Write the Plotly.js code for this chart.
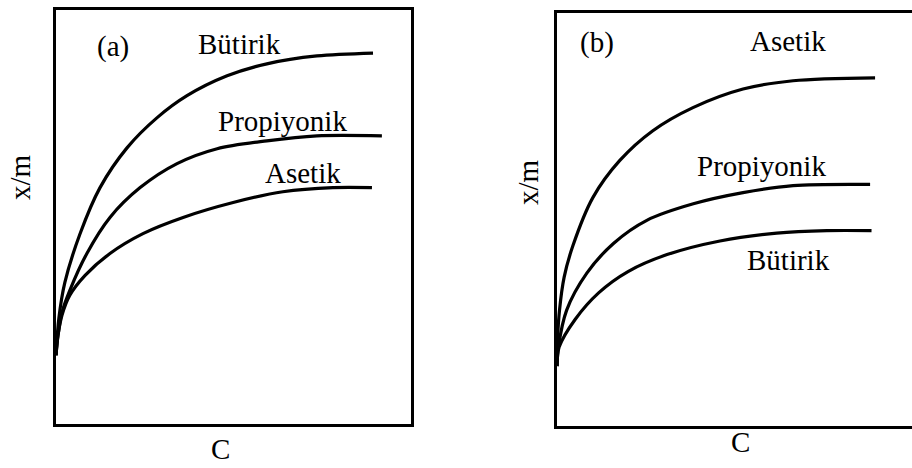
<!DOCTYPE html>
<html>
<head>
<meta charset="utf-8">
<script src="https://cdn.plot.ly/plotly-3.0.1.min.js"></script>
<style>
  html, body { margin: 0; padding: 0; background: #fff; }
  #chart { width: 912px; height: 468px; }
</style>
</head>
<body>
<div id="chart"></div>
<script>
// Adsorption isotherms (x/m against C) for three fatty acids, two panels.

// Panel (a)
const cA = {
  butirik:    [0, 0.08, 0.25, 0.68, 1.24, 2.00, 2.85, 3.69, 4.82, 5.94, 7.35, 8.93],
  propiyonik: [0, 0.056, 0.17, 0.39, 0.87, 1.52, 2.37, 3.41, 4.54, 5.94, 7.35, 9.18],
  asetik:     [0, 0.056, 0.17, 0.39, 0.82, 1.52, 2.45, 3.58, 4.99, 6.39, 7.80, 8.90]
};
const xmA = {
  butirik:    [1.66, 2.55, 3.42, 4.60, 5.71, 6.67, 7.40, 7.93, 8.41, 8.70, 8.89, 8.96],
  propiyonik: [1.66, 2.14, 2.70, 3.23, 4.12, 4.99, 5.71, 6.29, 6.65, 6.84, 6.96, 6.96],
  asetik:     [1.66, 2.14, 2.63, 3.11, 3.59, 4.12, 4.60, 4.99, 5.35, 5.61, 5.71, 5.71]
};

// Panel (b)
const cB = {
  asetik:     [0, 0.014, 0.07, 0.20, 0.45, 1.01, 1.77, 2.70, 3.83, 5.24, 6.65, 8.96],
  propiyonik: [0, 0.04, 0.27, 0.84, 1.59, 2.53, 3.84, 5.24, 6.65, 8.82],
  butirik:    [0, 0.06, 0.51, 1.18, 2.00, 3.10, 4.59, 6.19, 7.60, 8.86]
};
const xmB = {
  asetik:     [1.45, 2.08, 2.80, 3.60, 4.37, 5.53, 6.43, 7.15, 7.71, 8.16, 8.36, 8.43],
  propiyonik: [1.45, 1.91, 2.80, 3.70, 4.42, 4.98, 5.38, 5.65, 5.82, 5.85],
  butirik:    [1.45, 1.91, 2.58, 3.23, 3.74, 4.15, 4.48, 4.67, 4.73, 4.73]
};

const seriesNames = { butirik: 'Bütirik', propiyonik: 'Propiyonik', asetik: 'Asetik' };
const panelTags = ['(a)', '(b)'];
const axisLabelX = 'C';
const axisLabelY = 'x/m';

const FONT = '"Liberation Serif", "Times New Roman", serif';
const INK = '#000';

function curve(xs, ys, name, xa, ya) {
  return {
    x: xs, y: ys, name: name, xaxis: xa, yaxis: ya,
    type: 'scatter', mode: 'lines',
    line: { color: INK, width: 3.2, shape: 'spline', smoothing: 0.9 },
    hoverinfo: 'skip', showlegend: false
  };
}

const traces = [];
['butirik', 'propiyonik', 'asetik'].forEach(k => traces.push(curve(cA[k], xmA[k], seriesNames[k], 'x', 'y')));
['asetik', 'propiyonik', 'butirik'].forEach(k => traces.push(curve(cB[k], xmB[k], seriesNames[k], 'x2', 'y2')));

const W = 912, H = 468;
const bareAxis = {
  range: [0, 10], showgrid: false, zeroline: false, showticklabels: false, ticks: '',
  showline: true, linecolor: INK, linewidth: 3, fixedrange: true
};

function label(text, x, y, xref, yref, extra) {
  return Object.assign({
    text: text, x: x, y: y, xref: xref, yref: yref, showarrow: false,
    xanchor: 'center', yanchor: 'middle',
    font: { family: FONT, size: 29, color: INK }
  }, extra || {});
}

const layout = {
  width: W, height: H,
  margin: { l: 0, r: 0, t: 0, b: 0 },
  paper_bgcolor: '#fff', plot_bgcolor: '#fff',
  xaxis:  Object.assign({}, bareAxis, { domain: [56 / W, 411 / W], anchor: 'y', mirror: true }),
  yaxis:  Object.assign({}, bareAxis, { domain: [1 - 424 / H, 1 - 10 / H], anchor: 'x', mirror: true }),
  xaxis2: Object.assign({}, bareAxis, { domain: [557 / W, 1], anchor: 'y2', mirror: true }),
  yaxis2: Object.assign({}, bareAxis, { domain: [1 - 426 / H, 1 - 13 / H], anchor: 'x2', mirror: false }),
  annotations: [
    label(panelTags[0], 1.61, 9.13, 'x', 'y'),
    label(seriesNames.butirik, 5.18, 9.18, 'x', 'y'),
    label(seriesNames.propiyonik, 6.39, 7.33, 'x', 'y'),
    label(seriesNames.asetik, 6.96, 6.07, 'x', 'y'),
    label(panelTags[1], 1.13, 9.28, 'x2', 'y2'),
    label(seriesNames.asetik, 6.51, 9.32, 'x2', 'y2'),
    label(seriesNames.propiyonik, 5.77, 6.30, 'x2', 'y2'),
    label(seriesNames.butirik, 6.51, 4.01, 'x2', 'y2'),
    label(axisLabelX, 220 / W, 1 - 449 / H, 'paper', 'paper'),
    label(axisLabelX, 740 / W, 1 - 442 / H, 'paper', 'paper'),
    label(axisLabelY, 20 / W, 1 - 177 / H, 'paper', 'paper', { textangle: -90 }),
    label(axisLabelY, 528 / W, 1 - 182 / H, 'paper', 'paper', { textangle: -90 })
  ]
};

Plotly.newPlot('chart', traces, layout, { staticPlot: true, displayModeBar: false });
</script>
</body>
</html>
